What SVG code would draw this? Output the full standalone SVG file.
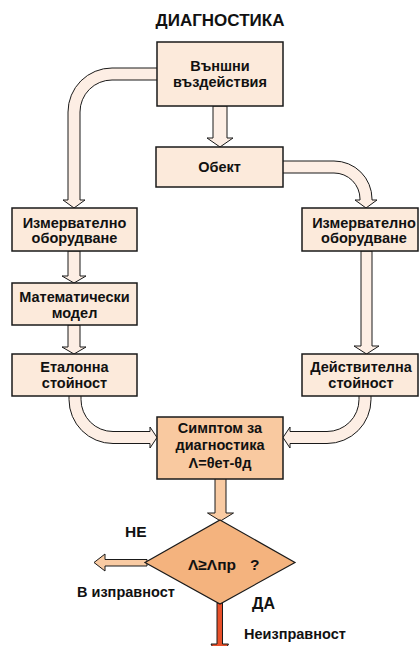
<svg xmlns="http://www.w3.org/2000/svg" width="420" height="646" viewBox="0 0 420 646">
  <defs>
    <style>
      .box { fill: #FCEADB; stroke: #1a1a1a; stroke-width: 1.5; }
      .box-hot { fill: #F9C9A0; stroke: #1a1a1a; stroke-width: 1.5; }
      .decision { fill: #F4B37E; stroke: #1a1a1a; stroke-width: 1.2; }
      .band { fill: #FDEEE4; stroke: #1a1a1a; stroke-width: 1; }
      .band-hot { fill: #F9CBA3; stroke: #1a1a1a; stroke-width: 1; }
      .band-red { fill: #E8502A; stroke: #1a1a1a; stroke-width: 1; }
      text { font-family: "Liberation Sans", Arial, sans-serif; font-weight: bold; fill: #111; }
      .lbl { font-size: 14.5px; text-anchor: middle; }
      .title { font-size: 17px; text-anchor: middle; }
      .note { font-size: 14.5px; }
    </style>
  </defs>

  <rect width="420" height="646" fill="#ffffff"/>

  <text class="title" x="220" y="26">ДИАГНОСТИКА</text>

  <!-- block-arrow connectors -->
  <g id="connectors">
    <!-- external influences -> left measuring equipment -->
    <path class="band" d="M158,68 H112 A44,44 0 0 0 68,112 V200 H63 L74,208 L85,200 H80 V112 A32,32 0 0 1 112,80 H158 Z"/>
    <!-- external influences -> object -->
    <path class="band" d="M213,106 V138 H207 L220,147 L233,138 H227 V106 Z"/>
    <!-- object -> right measuring equipment -->
    <path class="band" d="M282,161 H334 A38,38 0 0 1 372,199 V200 H377 L366,208 L355,200 H360 V199 A26,26 0 0 0 334,173 H282 Z"/>
    <!-- left chain -->
    <path class="band" d="M68,251 V276 H62 L74,283 L86,276 H80 V251 Z"/>
    <path class="band" d="M68,325 V347 H62 L74,354 L86,347 H80 V325 Z"/>
    <!-- right chain -->
    <path class="band" d="M361,251 V346 H354 L366.5,354 L379,346 H372 V251 Z"/>
    <!-- reference value -> symptom -->
    <path class="band" d="M69,395 V399.5 A44,44 0 0 0 113,443.5 H150 V448 L157,437.5 L150,427 V431.5 H113 A32,32 0 0 1 81,399.5 V395 Z"/>
    <!-- actual value -> symptom -->
    <path class="band" d="M371,395 V399.5 A44,44 0 0 1 327,443.5 H290 V448 L283,437.5 L290,427 V431.5 H327 A32,32 0 0 0 359,399.5 V395 Z"/>
    <!-- symptom -> decision -->
    <path class="band-hot" d="M215,478 V513 H207.5 L220.5,521 L233.5,513 H226 V478 Z"/>
    <!-- decision: no -> in working order -->
    <path class="band-hot" d="M147,559.5 H105 V554 L94,562.5 L105,571 V566 H147 Z"/>
    <!-- decision: yes -> fault -->
    <path class="band-red" d="M217,603 V644 H211 L219.75,660 L228.5,644 H222.5 V603 Z"/>
  </g>

  <g id="external">
    <rect class="box" x="157" y="42" width="126" height="64"/>
    <text class="lbl" x="220" y="71">Външни</text>
    <text class="lbl" x="220" y="87">въздействия</text>
  </g>

  <g id="object">
    <rect class="box" x="156" y="147" width="127" height="40"/>
    <text class="lbl" x="219.5" y="172">Обект</text>
  </g>

  <g id="measure-left">
    <rect class="box" x="12" y="208" width="125" height="43"/>
    <text class="lbl" x="74.5" y="227.5">Измервателно</text>
    <text class="lbl" x="74.5" y="243">оборудване</text>
  </g>

  <g id="measure-right">
    <rect class="box" x="302" y="208" width="116" height="43"/>
    <text class="lbl" x="364" y="227.5">Измервателно</text>
    <text class="lbl" x="364" y="243">оборудване</text>
  </g>

  <g id="model">
    <rect class="box" x="12" y="283" width="125" height="42"/>
    <text class="lbl" x="74.5" y="302">Математически</text>
    <text class="lbl" x="74.5" y="318">модел</text>
  </g>

  <g id="reference-value">
    <rect class="box" x="12" y="354" width="125" height="42"/>
    <text class="lbl" x="74.5" y="372">Еталонна</text>
    <text class="lbl" x="74.5" y="388">стойност</text>
  </g>

  <g id="actual-value">
    <rect class="box" x="302" y="354" width="116" height="42"/>
    <text class="lbl" x="361" y="372">Действителна</text>
    <text class="lbl" x="361" y="388">стойност</text>
  </g>

  <g id="symptom">
    <rect class="box-hot" x="157" y="417" width="126" height="62"/>
    <text class="lbl" x="220" y="433">Симптом за</text>
    <text class="lbl" x="220" y="450">диагностика</text>
    <text class="lbl" x="220" y="468">Λ=θет-θд</text>
  </g>

  <g id="decision">
    <polygon class="decision" points="220,520 295,562.5 220,604 145,562.5"/>
    <text style="font-size:15.5px" x="188" y="570">Λ≥Λпр<tspan x="250">?</tspan></text>
  </g>

  <g id="branch-labels">
    <text style="font-size:15.5px" x="125" y="537">НЕ</text>
    <text style="font-size:16px" x="252" y="609">ДА</text>
    <text class="note" x="77" y="597">В изправност</text>
    <text class="note" x="244" y="639">Неизправност</text>
  </g>
</svg>
